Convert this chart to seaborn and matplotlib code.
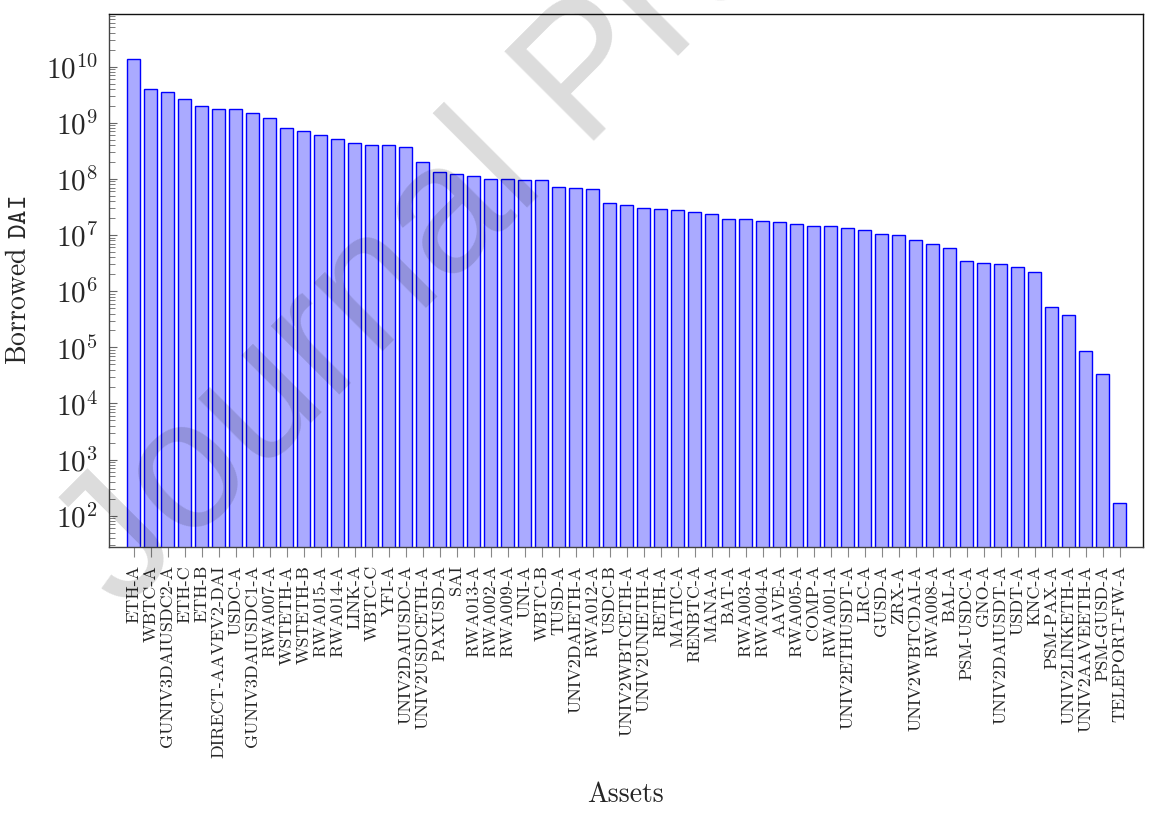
import matplotlib
matplotlib.use("Agg")
import matplotlib.pyplot as plt
import matplotlib.ticker as mticker
import seaborn as sns
import pandas as pd

assets = [
    "ETH-A", "WBTC-A", "GUNIV3DAIUSDC2-A", "ETH-C", "ETH-B", "DIRECT-AAVEV2-DAI",
    "USDC-A", "GUNIV3DAIUSDC1-A", "RWA007-A", "WSTETH-A", "WSTETH-B", "RWA015-A",
    "RWA014-A", "LINK-A", "WBTC-C", "YFI-A", "UNIV2DAIUSDC-A", "UNIV2USDCETH-A",
    "PAXUSD-A", "SAI", "RWA013-A", "RWA002-A", "RWA009-A", "UNI-A", "WBTC-B",
    "TUSD-A", "UNIV2DAIETH-A", "RWA012-A", "USDC-B", "UNIV2WBTCETH-A",
    "UNIV2UNIETH-A", "RETH-A", "MATIC-A", "RENBTC-A", "MANA-A", "BAT-A",
    "RWA003-A", "RWA004-A", "AAVE-A", "RWA005-A", "COMP-A", "RWA001-A",
    "UNIV2ETHUSDT-A", "LRC-A", "GUSD-A", "ZRX-A", "UNIV2WBTCDAI-A", "RWA008-A",
    "BAL-A", "PSM-USDC-A", "GNO-A", "UNIV2DAIUSDT-A", "USDT-A", "KNC-A",
    "PSM-PAX-A", "UNIV2LINKETH-A", "UNIV2AAVEETH-A", "PSM-GUSD-A", "TELEPORT-FW-A",
]

borrowed = [
    1.38e10, 3.96e9, 3.6e9, 2.6e9, 2.0e9, 1.76e9,
    1.74e9, 1.5e9, 1.24e9, 7.98e8, 7.05e8, 6.15e8,
    5.14e8, 4.36e8, 4.02e8, 4.0e8, 3.65e8, 1.97e8,
    1.31e8, 1.2e8, 1.14e8, 1.0e8, 1.0e8, 9.6e7, 9.5e7,
    7.3e7, 6.9e7, 6.6e7, 3.66e7, 3.43e7,
    3.07e7, 2.95e7, 2.8e7, 2.53e7, 2.37e7, 1.95e7,
    1.9e7, 1.8e7, 1.7e7, 1.55e7, 1.45e7, 1.43e7,
    1.35e7, 1.21e7, 1.04e7, 1.0e7, 8.15e6, 7.0e6,
    5.77e6, 3.5e6, 3.16e6, 3.03e6, 2.68e6, 2.18e6,
    5.3e5, 3.8e5, 8.6e4, 3.4e4, 168,
]

xlabel = "Assets"
ylabel = r"Borrowed $\mathtt{DAI}$"
watermark = "Journal Pre-proof"

df = pd.DataFrame({"asset": assets, "borrowed": borrowed})

sns.set_style("white")
plt.rcParams["font.family"] = ["cmr10", "DejaVu Serif"]
plt.rcParams["mathtext.fontset"] = "cm"
plt.rcParams["axes.formatter.use_mathtext"] = True

fig = plt.figure(figsize=(11.67, 8.14), dpi=100)
ax = fig.add_axes([109 / 1167, 1 - 547 / 814, (1143 - 109) / 1167, (547 - 14) / 814])
ax.set_yscale("log")

sns.barplot(data=df, x="asset", y="borrowed", ax=ax, color="#AAAAFF",
            saturation=1, edgecolor="#0000FF", linewidth=1.0, width=0.74)

ax.set_xlim(-1.45, len(assets) - 1 + 1.38)
ax.set_ylim(27.7, 8.66e10)

ax.yaxis.set_major_locator(mticker.LogLocator(base=10, numticks=20))
ax.yaxis.set_minor_locator(mticker.LogLocator(base=10, subs=range(2, 10), numticks=200))
ax.yaxis.set_minor_formatter(mticker.NullFormatter())

ax.tick_params(axis="y", which="major", direction="in", length=6, width=0.8,
               color="#666666", labelsize=21, pad=8, left=True, right=False)
ax.tick_params(axis="y", which="minor", direction="in", length=4, width=0.6,
               color="#666666", left=True, right=False)
ax.tick_params(axis="x", which="major", direction="out", length=7, width=0.8,
               color="#888888", labelsize=13, pad=6, bottom=True, top=False)
ax.set_xticks(range(len(assets)))
ax.set_xticklabels(assets, rotation=90)

for side, sp in ax.spines.items():
    sp.set_visible(True)
    sp.set_linewidth(1.0)
    sp.set_color("#444444" if side in ("left", "bottom") else "#111111")

ax.set_xlabel(xlabel, fontsize=20, labelpad=17)
ax.set_ylabel(ylabel, fontsize=20, labelpad=10)

fig.text(122 / 1167, 1 - 612 / 814, watermark, rotation=45, rotation_mode="anchor",
         ha="left", va="baseline", fontsize=132, family="Liberation Sans",
         color="black", alpha=0.14, zorder=10)

fig.savefig("out.png", dpi=100)
